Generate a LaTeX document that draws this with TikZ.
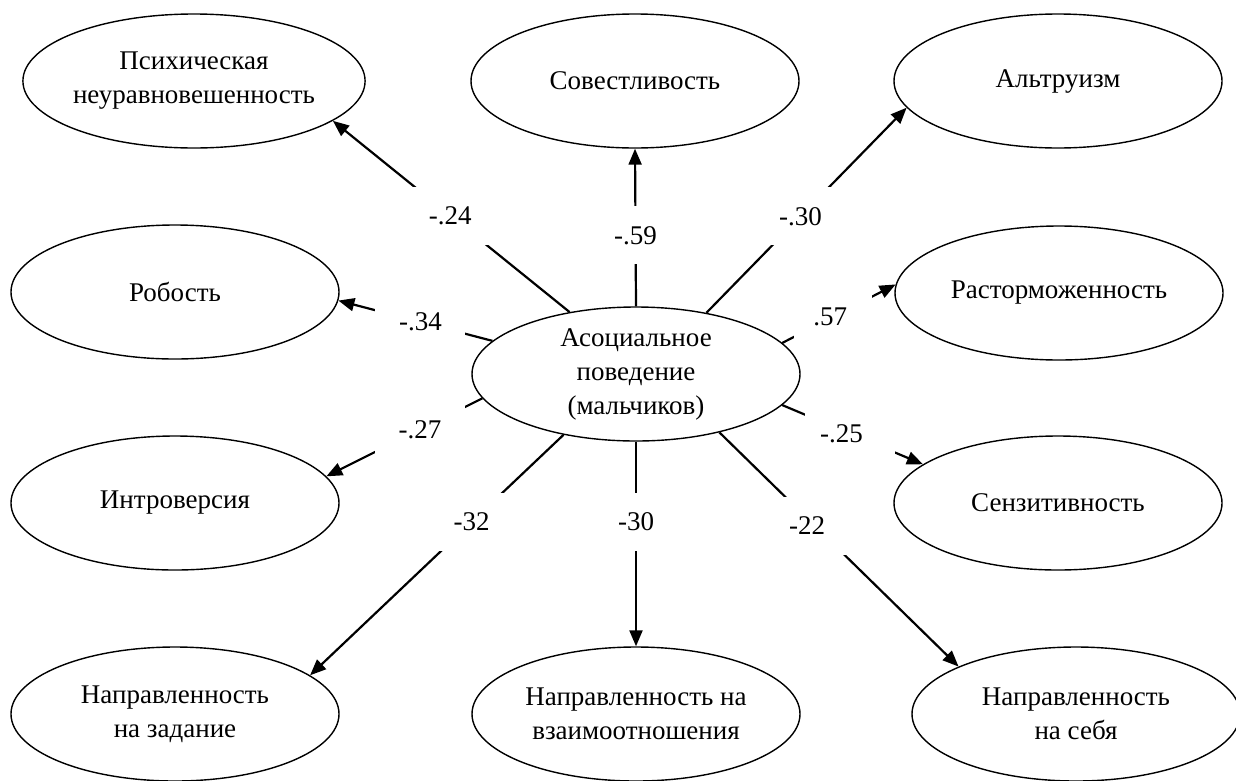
\documentclass[tikz,border=0pt]{standalone}
\usepackage{fontspec}
\setmainfont{Liberation Serif}
\usetikzlibrary{shapes.geometric,arrows.meta}
\begin{document}
\begin{tikzpicture}[x=1pt,y=-1pt,
  txt/.style={font=\fontsize{27pt}{34pt}\selectfont},
  ell/.style={draw,ellipse,line width=1.4pt,minimum width=328pt,minimum height=134pt,inner sep=0pt,align=center,txt},
  conn/.style={line width=2.2pt,-{Triangle[length=16pt,width=13pt]}},
  lbl/.style={fill=white,minimum width=90pt,minimum height=58pt,inner sep=0pt,txt},
]
\useasboundingbox (0,0) rectangle (1236,780);
\node[ell] (c)    at (636,374)  {Асоциальное\\поведение\\(мальчиков)};
\node[ell] (psy)  at (194,81)   {Психическая\\неуравновешенность};
\node[ell] (sov)  at (635,81)   {Совестливость};
\node[ell] (alt)  at (1058,81)  {Альтруизм};
\node[ell] (rob)  at (175,292)  {Робость};
\node[ell] (ras)  at (1059,293) {Расторможенность};
\node[ell] (intr) at (175,503)  {Интроверсия};
\node[ell] (sens) at (1058,503) {Сензитивность};
\node[ell] (zad)  at (175,714)  {Направленность\\на задание};
\node[ell] (vz)   at (636,714)  {Направленность на\\взаимоотношения};
\node[ell] (seb)  at (1076,714) {Направленность\\на себя};

\draw[conn] (c.137.6) -- node[lbl,pos=0.504]{-.24} (psy.-16);
\draw[conn] (c.90)    -- node[lbl,pos=0.45]{-.59} (sov.-90);
\draw[conn] (c.41.1)  -- node[lbl,pos=0.47]{-.30} (alt.-170.5);
\draw[conn] (c.167)   -- node[lbl,pos=0.467]{-.34} (rob.-3.5);
\draw[conn] (c.-171.9) -- node[lbl,pos=0.40]{-.27} (intr.10);
\draw[conn] (c.12.7)  -- node[lbl,pos=0.45,minimum width=78pt]{\hspace*{-6pt}.57} (ras.177.2);
\draw[conn] (c.-12)   -- node[lbl,pos=0.478]{\hspace*{-16pt}-.25} (sens.164);
\draw[conn] (c.-140.4) -- node[lbl,pos=0.363]{-32} (zad.16.7);
\draw[conn] (c.-90)   -- node[lbl,pos=0.39]{-30} (vz.90);
\draw[conn] (c.-35.8) -- node[lbl,pos=0.40]{\hspace*{-16pt}-22} (seb.158.7);
\end{tikzpicture}
\end{document}
